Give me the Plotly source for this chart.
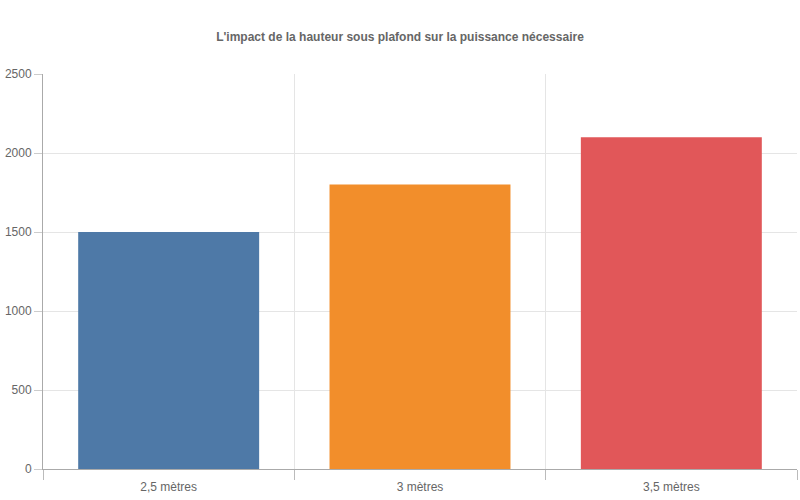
import plotly.graph_objs as go

categories = ['2,5 mètres', '3 mètres', '3,5 mètres']
puissance = [1500, 1800, 2100]
colors = ['#4e79a7', '#f28e2b', '#e15759']

title_text = "L'impact de la hauteur sous plafond sur la puissance nécessaire"

fig = go.Figure(
    go.Bar(
        x=categories,
        y=puissance,
        marker=dict(color=colors, line=dict(width=0)),
        width=0.72,
    )
)

fig.update_layout(
    width=800,
    height=500,
    paper_bgcolor='white',
    plot_bgcolor='white',
    margin=dict(l=43, r=3, t=74, b=31),
    showlegend=False,
    font=dict(family='Liberation Sans, Arial, sans-serif', size=12, color='#666'),
    title=dict(
        text='<b>' + title_text + '</b>',
        x=0.5,
        xanchor='center',
        y=1 - 37 / 500,
        yanchor='middle',
        font=dict(size=12, color='#666'),
    ),
    # category axis with grid/ticks on boundaries like the original
    xaxis=dict(
        type='category',
        tickson='boundaries',
        showgrid=True,
        gridcolor='#e5e5e5',
        gridwidth=1,
        ticks='outside',
        ticklen=10,
        tickcolor='#bbb',
        showline=True,
        linecolor='#aaa',
        linewidth=1,
        ticklabelstandoff=7,
        automargin=False,
        tickfont=dict(size=12, color='#666'),
    ),
    yaxis=dict(
        range=[0, 2500],
        dtick=500,
        showgrid=True,
        gridcolor='#e5e5e5',
        gridwidth=1,
        zeroline=False,
        ticks='outside',
        ticklen=8,
        tickcolor='#ccc',
        showline=True,
        linecolor='#aaa',
        linewidth=1,
        automargin=False,
        tickfont=dict(size=12, color='#666'),
    ),
)

# drop the default 8px body margin so the figure fills the window
fig.write_html(
    "out.html",
    config={'displayModeBar': False},
    post_script="document.body.style.margin = '0';",
)
